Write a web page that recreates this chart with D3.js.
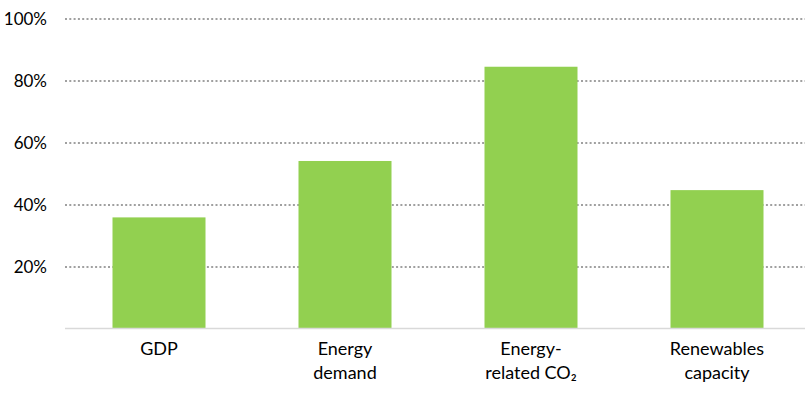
<!DOCTYPE html>
<html><head><meta charset="utf-8">
<script src="https://cdn.jsdelivr.net/npm/d3@7"></script>
<style>body{margin:0;background:#fff}</style>
</head><body>
<svg id="c" width="805" height="396"></svg>
<script>
const categories = [["GDP"], ["Energy", "demand"], ["Energy-", "related CO₂"], ["Renewables", "capacity"]];
const values = [36, 54.2, 84.6, 44.8];
const yTicks = [20, 40, 60, 80, 100];

const svg = d3.select("#c");
const font = "Lato, 'Open Sans', sans-serif";
const x = d3.scaleBand().domain(d3.range(categories.length)).range([66, 810]).paddingInner(0.5).paddingOuter(0.25);
const y = d3.scaleLinear().domain([0, 100]).range([329, 19]);

// gridlines
svg.selectAll("line.grid").data(yTicks).join("line")
  .attr("x1", 65).attr("x2", 805)
  .attr("y1", d => y(d)).attr("y2", d => y(d))
  .attr("stroke", "#a0a0a0").attr("stroke-width", 2).attr("stroke-dasharray", "2,2.3");

// y labels
svg.selectAll("text.yl").data(yTicks).join("text")
  .attr("x", 47).attr("y", d => y(d)).attr("dy", "0.35em")
  .attr("text-anchor", "end").attr("font-family", font).attr("font-size", 17).attr("fill", "#000")
  .text(d => d + "%");

// bars
svg.selectAll("rect").data(values).join("rect")
  .attr("x", (d, i) => x(i)).attr("width", x.bandwidth())
  .attr("y", d => y(d)).attr("height", d => y(0) - y(d))
  .attr("fill", "#92d050");

// baseline
svg.append("line").attr("x1", 65).attr("x2", 805).attr("y1", 328.5).attr("y2", 328.5)
  .attr("stroke", "#d9d9d9").attr("stroke-width", 1.5);

// category labels
const g = svg.selectAll("text.cl").data(categories).join("text")
  .attr("text-anchor", "middle").attr("font-family", font).attr("font-size", 18).attr("fill", "#000");
g.each(function(d, i) {
  const t = d3.select(this);
  d.forEach((line, j) => {
    t.append("tspan").attr("x", x(i) + x.bandwidth() / 2).attr("y", 355 + j * 24).text(line);
  });
});
</script>
</body></html>
